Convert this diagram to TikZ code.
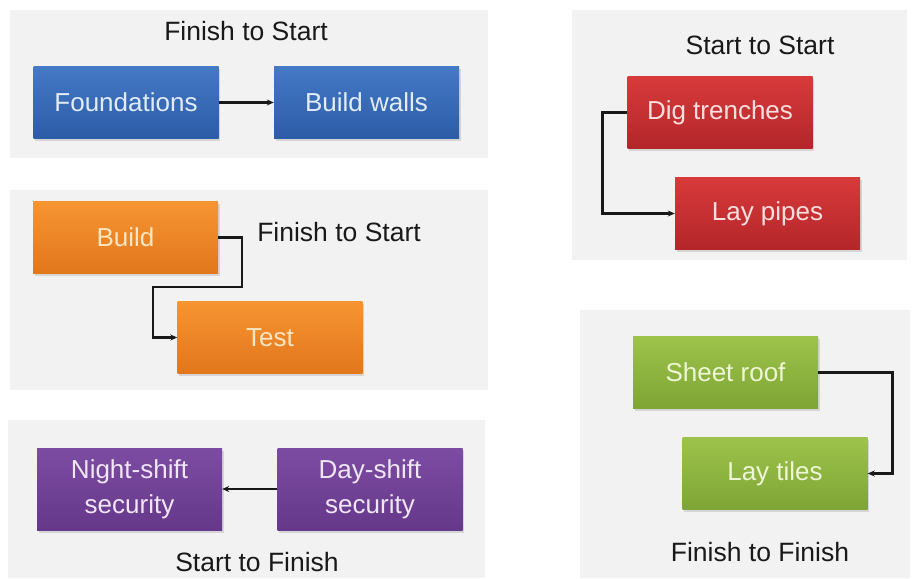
\documentclass[tikz,border=0pt]{standalone}
\usepackage{fontspec}
\setmainfont{Liberation Sans}
\usetikzlibrary{arrows.meta,shadows}

\tikzset{
  panel/.style={fill=black!5, draw=none},
  task/.style={minimum width=185pt, minimum height=72pt, inner sep=0pt,
    align=center, font=\fontsize{26}{35}\selectfont,
    drop shadow={shadow xshift=1.5pt, shadow yshift=-2.5pt, opacity=0.25}},
  bluebox/.style={task, top color=blue1, bottom color=blue2, text=bluetxt},
  orangebox/.style={task, top color=orange1, bottom color=orange2, text=orangetxt},
  redbox/.style={task, top color=red1, bottom color=red2, text=redtxt},
  purplebox/.style={task, top color=purple1, bottom color=purple2, text=purpletxt, minimum height=82pt},
  greenbox/.style={task, top color=green1, bottom color=green2, text=greentxt},
  caption/.style={font=\fontsize{26.5}{31}\selectfont, text=black!90},
  conn/.style={draw=black!90, line width=2.6pt, -{Stealth[length=7pt,width=6pt]}},
}
\definecolor{blue1}{HTML}{4479C6}
\definecolor{blue2}{HTML}{2C5CA6}
\definecolor{bluetxt}{HTML}{E2ECF8}
\definecolor{orange1}{HTML}{F69432}
\definecolor{orange2}{HTML}{E2771C}
\definecolor{orangetxt}{HTML}{FCE6C4}
\definecolor{red1}{HTML}{D83A3B}
\definecolor{red2}{HTML}{B3262A}
\definecolor{redtxt}{HTML}{F9E0DE}
\definecolor{purple1}{HTML}{7C4CA2}
\definecolor{purple2}{HTML}{65388A}
\definecolor{purpletxt}{HTML}{F0E6F6}
\definecolor{green1}{HTML}{9DC34B}
\definecolor{green2}{HTML}{7EA535}
\definecolor{greentxt}{HTML}{EEF6D6}

\begin{document}
\begin{tikzpicture}[x=1pt, y=-1pt]
  \useasboundingbox (0,0) rectangle (917,578);
  \fill[white] (0,0) rectangle (917,578);

  % background panels
  \fill[panel] (10,10) rectangle (488,158);
  \fill[panel] (10,190) rectangle (488,390);
  \fill[panel] (8,420) rectangle (485,578);
  \fill[panel] (572,10) rectangle (907,260);
  \fill[panel] (580,310) rectangle (910,578);

  % Finish to Start (horizontal)
  \node[caption] (t1) at (246,31) {Finish to Start};
  \node[bluebox] (found) at (126,102.5) {Foundations};
  \node[bluebox] (walls) at (366.5,102.5) {Build walls};
  \draw[conn] (found.east) -- (walls.west);

  % Finish to Start (stepped)
  \node[caption] (t2) at (339,232) {Finish to Start};
  \node[orangebox] (build) at (125.5,237.5) {Build};
  \node[orangebox] (test) at (270,337.5) {Test};
  \coordinate (b1) at (242,287);
  \coordinate (b2) at (153,287);
  \draw[conn] (build.east) -| (b1) -- (b2) |- (test.west);

  % Start to Finish
  \node[caption] (t3) at (257,562) {Start to Finish};
  \node[purplebox] (night) at (129.5,489) {Night-shift\\security};
  \node[purplebox] (day) at (370,489) {Day-shift\\security};
  \draw[conn] (day.west) -- (night.east);

  % Start to Start
  \node[caption] (t4) at (760,45) {Start to Start};
  \node[redbox] (dig) at (720,112.5) {Dig trenches};
  \node[redbox] (pipes) at (767.5,213.5) {Lay pipes};
  \draw[conn] (dig.west) -- ++(-25,0) |- (pipes.west);

  % Finish to Finish
  \node[caption] (t5) at (760,552) {Finish to Finish};
  \node[greenbox] (roof) at (725.5,372.5) {Sheet roof};
  \node[greenbox] (tiles) at (775,473.5) {Lay tiles};
  \draw[conn] (roof.east) -- ++(74,0) |- (tiles.east);
\end{tikzpicture}
\end{document}
